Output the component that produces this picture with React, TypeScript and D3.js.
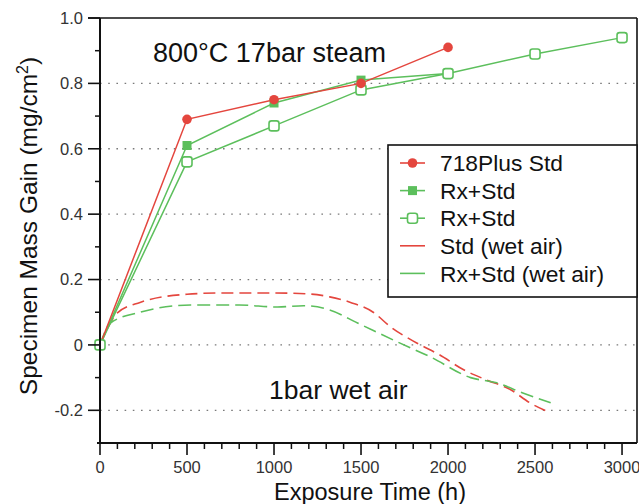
import * as d3 from 'd3'

const W = 639
const H = 504

// steam tests (symbols + solid lines)
const hoursSteam = [0, 500, 1000, 1500, 2000]
const std718 = [0, 0.69, 0.75, 0.8, 0.91]
const rxStdFilled = [0, 0.61, 0.74, 0.81, 0.83]
const hoursRxOpen = [0, 500, 1000, 1500, 2000, 2500, 3000]
const rxStdOpen = [0, 0.56, 0.67, 0.78, 0.83, 0.89, 0.94]

// wet air tests (dashed curves)
const hoursStdWet = [0, 100, 230, 500, 700, 1000, 1200, 1320, 1440, 1570, 1670, 1820, 1950, 2090, 2220, 2360, 2470, 2590]
const stdWet = [0, 0.098, 0.13, 0.155, 0.159, 0.159, 0.156, 0.147, 0.13, 0.1, 0.055, 0.006, -0.03, -0.076, -0.107, -0.137, -0.177, -0.208]
const hoursRxWet = [0, 60, 230, 520, 800, 1020, 1170, 1320, 1480, 1710, 1900, 2130, 2280, 2430, 2590]
const rxWet = [0, 0.067, 0.1, 0.122, 0.122, 0.116, 0.12, 0.107, 0.067, 0.009, -0.037, -0.1, -0.116, -0.147, -0.177]

const xMajor = [0, 500, 1000, 1500, 2000, 2500, 3000]
const xMajorLabels = ['0', '500', '1000', '1500', '2000', '2500', '3000']
const yMajor = [1.0, 0.8, 0.6, 0.4, 0.2, 0, -0.2]
const yMajorLabels = ['1.0', '0.8', '0.6', '0.4', '0.2', '0', '-0.2']
const yGrid = [0.8, 0.6, 0.4, 0.2, 0, -0.2]

const legendLabels = ['718Plus Std', 'Rx+Std', 'Rx+Std', 'Std (wet air)', 'Rx+Std (wet air)']

const RED = '#e4463e'
const GREEN = '#5cbf5c'
const FONT = '"Liberation Sans", Arial, Helvetica, sans-serif'

export default function App() {
  const x = d3.scaleLinear().domain([0, 3086]).range([100, 637])
  const y = d3.scaleLinear().domain([-0.3, 1.0]).range([443, 18])

  const straight = d3.line<[number, number]>().x(d => x(d[0])).y(d => y(d[1]))
  const smooth = d3.line<[number, number]>().x(d => x(d[0])).y(d => y(d[1])).curve(d3.curveMonotoneX)

  const zip = (xs: number[], ys: number[]) => xs.map((v, i) => [v, ys[i]] as [number, number])

  const redPts = zip(hoursSteam, std718)
  const filledPts = zip(hoursSteam, rxStdFilled)
  const openPts = zip(hoursRxOpen, rxStdOpen)

  const xMinor = d3.range(0, 3001, 100).filter(v => v % 500 !== 0)
  const yMinor = [0.9, 0.7, 0.5, 0.3, 0.1, -0.1]

  const [x0, x1] = x.range()
  const [yb, yt] = y.range()

  const legX = 388, legY = 145, legW = 249, legH = 152
  const rowY = (i: number) => 163 + i * 27.6

  const marker = (kind: number, cx: number, cy: number, key: string) => {
    if (kind === 0) return <circle key={key} cx={cx} cy={cy} r={4.8} fill={RED} />
    if (kind === 1) return <rect key={key} x={cx - 4.5} y={cy - 4.5} width={9} height={9} fill={GREEN} />
    return <rect key={key} x={cx - 5} y={cy - 5} width={10} height={10} rx={2.5} fill="#fff" stroke={GREEN} strokeWidth={1.6} />
  }

  return (
    <svg width={W} height={H} style={{ position: 'absolute', left: 0, top: 0, background: '#fff' }}>
      {/* grid */}
      {yGrid.map(v => (
        <line key={'g' + v} x1={x0} x2={x1} y1={y(v)} y2={y(v)}
          stroke="#7a7a7a" strokeWidth={1.3} strokeDasharray="1.6,6.6" />
      ))}

      {/* wet air curves */}
      <path d={smooth(zip(hoursStdWet, stdWet)) ?? ''} fill="none" stroke={RED} strokeWidth={1.6} strokeDasharray="12,6" />
      <path d={smooth(zip(hoursRxWet, rxWet)) ?? ''} fill="none" stroke={GREEN} strokeWidth={1.6} strokeDasharray="13,6" />

      {/* steam series */}
      <path d={straight(openPts) ?? ''} fill="none" stroke={GREEN} strokeWidth={1.5} />
      <path d={straight(filledPts) ?? ''} fill="none" stroke={GREEN} strokeWidth={1.5} />
      <path d={straight(redPts) ?? ''} fill="none" stroke={RED} strokeWidth={1.5} />
      {filledPts.map((d, i) => marker(1, x(d[0]), y(d[1]), 'f' + i))}
      {openPts.map((d, i) => marker(2, x(d[0]), y(d[1]), 'o' + i))}
      {redPts.slice(1).map((d, i) => marker(0, x(d[0]), y(d[1]), 'r' + i))}

      {/* frame + axes */}
      <line x1={88} x2={x1} y1={yt} y2={yt} stroke="#111" strokeWidth={1.6} />
      <line x1={x1} x2={x1} y1={yt} y2={yb} stroke="#111" strokeWidth={1.6} />
      <line x1={x0} x2={x0} y1={yt} y2={yb + 1} stroke="#111" strokeWidth={2} />
      <line x1={x0 - 3} x2={x1} y1={yb} y2={yb} stroke="#111" strokeWidth={2} />

      {yMajor.map((v, i) => (
        <g key={'ym' + v}>
          <line x1={88} x2={x0} y1={y(v)} y2={y(v)} stroke="#111" strokeWidth={1.6} />
          <text x={83} y={y(v)} dy="0.36em" textAnchor="end"
            style={{ fontFamily: FONT, fontSize: 16.5, fill: '#333' }}>{yMajorLabels[i]}</text>
        </g>
      ))}
      {yMinor.map(v => (
        <line key={'yn' + v} x1={95} x2={x0} y1={y(v)} y2={y(v)} stroke="#111" strokeWidth={1.5} />
      ))}
      {xMajor.map((v, i) => (
        <g key={'xm' + v}>
          <line x1={x(v)} x2={x(v)} y1={yb} y2={yb + 12} stroke="#111" strokeWidth={1.6} />
          <text x={x(v)} y={473} textAnchor="middle"
            style={{ fontFamily: FONT, fontSize: 16.5, fill: '#333' }}>{xMajorLabels[i]}</text>
        </g>
      ))}
      {xMinor.map(v => (
        <line key={'xn' + v} x1={x(v)} x2={x(v)} y1={yb} y2={yb + 6} stroke="#111" strokeWidth={1.5} />
      ))}

      {/* annotations */}
      <text x={153} y={62} style={{ fontFamily: FONT, fontSize: 27, fill: '#111' }}>800°C 17bar steam</text>
      <text x={269} y={399} style={{ fontFamily: FONT, fontSize: 26.5, fill: '#111' }}>1bar wet air</text>

      {/* axis titles */}
      <text x={370} y={500} textAnchor="middle" style={{ fontFamily: FONT, fontSize: 23.5, fill: '#111' }}>Exposure Time (h)</text>
      <text transform="translate(37,226) rotate(-90)" textAnchor="middle"
        style={{ fontFamily: FONT, fontSize: 24.5, fill: '#111' }}>
        Specimen Mass Gain (mg/cm<tspan dy={-9} style={{ fontSize: 16 }}>2</tspan><tspan dy={9}>)</tspan>
      </text>

      {/* legend */}
      <rect x={legX} y={legY} width={legW} height={legH} fill="#fff" stroke="#111" strokeWidth={1.6} />
      {legendLabels.map((lab, i) => {
        const cy = rowY(i)
        const col = i === 0 || i === 3 ? RED : GREEN
        return (
          <g key={'l' + i}>
            <line x1={400} x2={425} y1={cy} y2={cy} stroke={col} strokeWidth={1.6} />
            {i < 3 ? marker(i, 412.5, cy, 'lm' + i) : null}
            <text x={440} y={cy} dy="0.36em" style={{ fontFamily: FONT, fontSize: 22.8, fill: '#111' }}>{lab}</text>
          </g>
        )
      })}
    </svg>
  )
}
